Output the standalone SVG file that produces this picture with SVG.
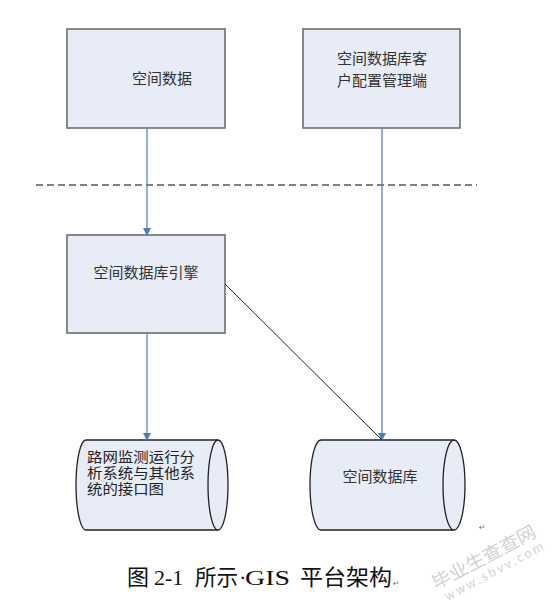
<svg xmlns="http://www.w3.org/2000/svg" width="556" height="610" viewBox="0 0 556 610">
<style>
.box{fill:#e7ecf7;stroke:#6e6e6e;stroke-width:1.6}
.cyl{fill:#e7ecf7;stroke:#222;stroke-width:1.3}
.t{font-family:"Noto Sans CJK SC","Liberation Sans",sans-serif;font-size:15px;fill:#333}
.t2{font-family:"Noto Sans CJK SC","Liberation Sans",sans-serif;font-size:14px;fill:#222}
.blue{stroke:#4a7ec4;stroke-width:1.2;fill:none}
.cap{font-family:"Liberation Serif","Noto Sans CJK SC",serif;font-size:22px;fill:#111}
.wm{font-family:"Noto Sans CJK SC",sans-serif;fill:#d2d2d2}
</style>
<defs>
<marker id="ah" markerWidth="8" markerHeight="8" refX="7" refY="4" orient="auto" markerUnits="userSpaceOnUse">
<path d="M0,0 L8,4 L0,8 Z" fill="#4a7ec4"/>
</marker>
</defs>
<rect width="556" height="610" fill="#fff"/>
<line x1="36" y1="185" x2="477" y2="185" stroke="#555" stroke-width="1.4" stroke-dasharray="7,4"/>
<g id="n1"><rect class="box" x="67" y="29" width="158" height="99"/><text class="t" x="162" y="84" text-anchor="middle">空间数据</text></g>
<g id="n2"><rect class="box" x="303" y="29" width="157" height="99"/><text class="t" x="382" y="64" text-anchor="middle">空间数据库客</text><text class="t" x="382" y="86" text-anchor="middle">户配置管理端</text></g>
<g id="n3"><rect class="box" x="67" y="235" width="158" height="98"/><text class="t" x="146" y="278" text-anchor="middle">空间数据库引擎</text></g>
<g id="n4"><path class="cyl" d="M86,440 L218,440 A10,45 0 0 1 218,530 L86,530 A10,45 0 0 1 86,440 Z"/><path class="cyl" fill="none" d="M218,440 A10,45 0 0 0 218,530"/>
<text class="t2" x="87" y="462" textLength="108" lengthAdjust="spacingAndGlyphs">路网监测运行分</text><text class="t2" x="87" y="478" textLength="108" lengthAdjust="spacingAndGlyphs">析系统与其他系</text><text class="t2" x="87" y="494" textLength="77" lengthAdjust="spacingAndGlyphs">统的接口图</text></g>
<g id="n5"><path class="cyl" d="M321,440 L454,440 A11,45 0 0 1 454,530 L321,530 A11,45 0 0 1 321,440 Z"/><path class="cyl" fill="none" d="M454,440 A11,45 0 0 0 454,530"/>
<text class="t" x="380" y="482" text-anchor="middle">空间数据库</text></g>
<g id="connectors">
<line class="blue" x1="147" y1="128" x2="147" y2="235" marker-end="url(#ah)"/>
<line class="blue" x1="382" y1="128" x2="382" y2="440" marker-end="url(#ah)"/>
<line x1="225" y1="284" x2="382" y2="440" stroke="#222" stroke-width="1"/>
<line class="blue" x1="147" y1="333" x2="147" y2="440" marker-end="url(#ah)"/>
</g>
<text x="479" y="530" font-family="DejaVu Sans,sans-serif" font-size="8" fill="#777">↵</text>
<text class="cap" y="585"><tspan x="127">图</tspan><tspan x="154">2-1</tspan><tspan x="195" textLength="43" lengthAdjust="spacingAndGlyphs">所示</tspan><tspan x="239">·</tspan><tspan x="245" textLength="45" lengthAdjust="spacingAndGlyphs">GIS</tspan><tspan x="300" textLength="92" lengthAdjust="spacingAndGlyphs">平台架构</tspan></text>
<text x="393" y="586" font-family="DejaVu Sans,sans-serif" font-size="8" fill="#777">↵</text>
<g transform="translate(436,590) rotate(-28)">
<text class="wm" x="0" y="0" font-size="18" textLength="115" lengthAdjust="spacingAndGlyphs">毕业生查查网</text>
<text class="wm" x="5" y="15" font-size="12" font-family="Liberation Sans,sans-serif" textLength="110" lengthAdjust="spacing">www.sbvv.com</text>
</g>
</svg>
